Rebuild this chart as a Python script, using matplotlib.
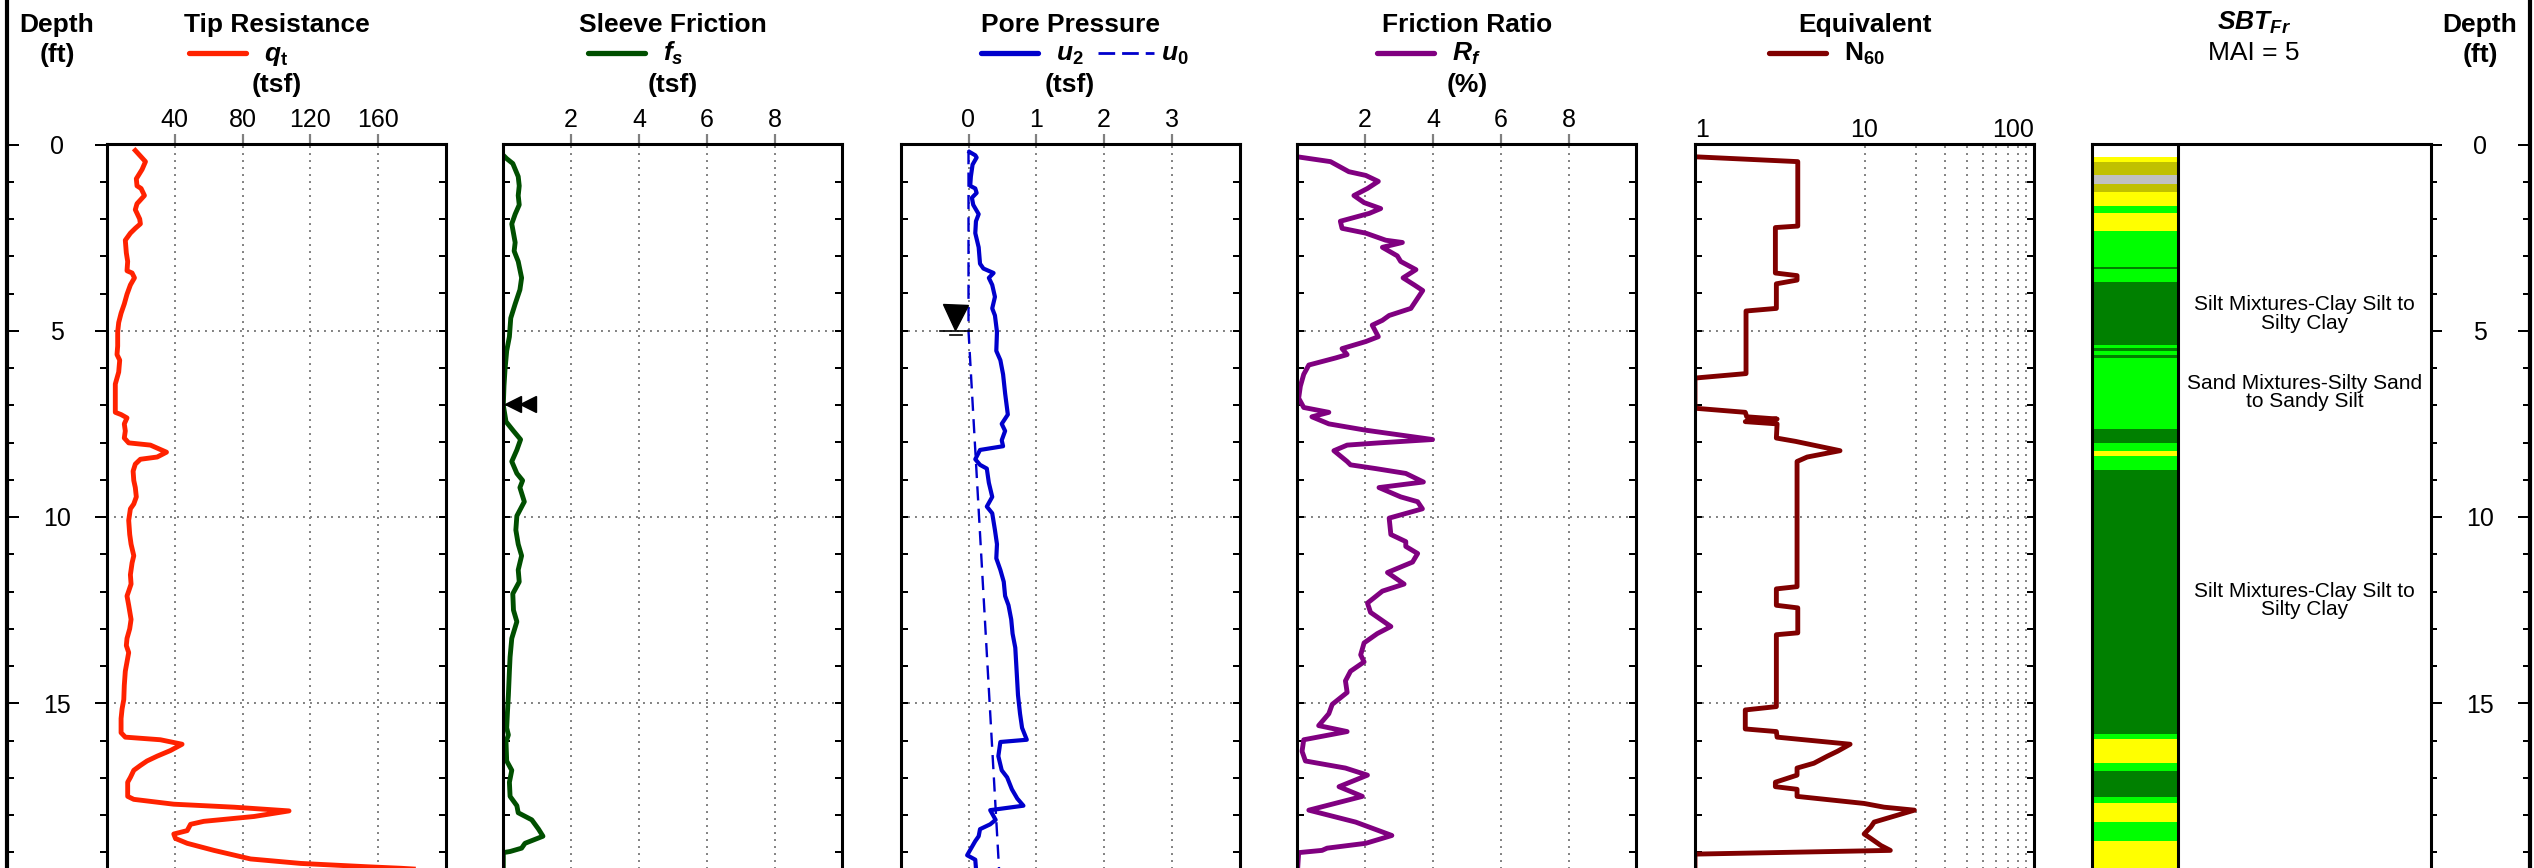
import matplotlib
matplotlib.use('Agg')
import matplotlib.pyplot as plt
from matplotlib.lines import Line2D
from matplotlib.ticker import FixedLocator, MultipleLocator, NullFormatter

plt.rcParams['font.family'] = ['Liberation Sans', 'DejaVu Sans']
plt.rcParams['mathtext.fontset'] = 'custom'
plt.rcParams['mathtext.rm'] = 'Liberation Sans:bold'
plt.rcParams['mathtext.it'] = 'Liberation Sans:bold:italic'
plt.rcParams['mathtext.bf'] = 'Liberation Sans:bold'

# ---- CPT sounding data (depth ft, value) ----
qt_pts = [(0.16, 16.7), (0.46, 22.7), (0.67, 20.7), (0.92, 17.3), (1.11, 17.7), (1.18, 20.1),
          (1.37, 22.1), (1.59, 17.7), (1.75, 16.7), (2.0, 19.3), (2.13, 19.7), (2.25, 16.7),
          (2.38, 13.8), (2.57, 10.8), (2.91, 11.4), (3.14, 12.2), (3.39, 11.8), (3.45, 14.8),
          (3.58, 16.2), (3.77, 13.8), (4.02, 11.8), (4.28, 10.2), (4.53, 8.3), (4.78, 6.9),
          (5.03, 6.3), (5.41, 6.3), (5.64, 5.9), (5.79, 7.5), (6.11, 6.9), (6.43, 4.9),
          (7.19, 4.9), (7.25, 8.3), (7.34, 11.8), (7.5, 10.2), (7.69, 10.8), (7.88, 10.2),
          (8.01, 12.8), (8.07, 25.6), (8.26, 35.1), (8.39, 29.6), (8.45, 19.7), (8.58, 16.7),
          (8.77, 15.4), (9.02, 15.8), (9.21, 16.7), (9.46, 17.3), (9.65, 15.8), (9.78, 13.8),
          (10.09, 12.8), (10.47, 13.4), (10.73, 14.2), (11.04, 15.8), (11.23, 14.8), (11.55, 13.8),
          (11.8, 14.2), (11.99, 12.8), (12.12, 11.8), (12.37, 12.8), (12.75, 14.2), (13.0, 13.4),
          (13.26, 11.8), (13.45, 11.4), (13.64, 12.8), (13.89, 11.8), (14.14, 10.8), (14.52, 10.2),
          (14.9, 9.9), (15.15, 8.9), (15.41, 8.3), (15.79, 8.3), (15.91, 10.8), (15.98, 31.5),
          (16.1, 44.3), (16.27, 37.4), (16.42, 29.6), (16.55, 23.6), (16.67, 19.7), (16.8, 15.8),
          (16.99, 13.8), (17.12, 12.2), (17.5, 12.2), (17.58, 15.8), (17.71, 39.4), (17.79, 74.9),
          (17.89, 107.4), (18.04, 86.7), (18.17, 57.1), (18.25, 49.3), (18.42, 47.3), (18.51, 39.4),
          (18.63, 40.4), (18.76, 47.3), (18.95, 63.1), (19.18, 84.7), (19.3, 114.3), (19.39, 153.7),
          (19.43, 173.4), (19.48, 192.0)]

fs_pts = [(0.29, 0.0), (0.38, 0.1), (0.51, 0.28), (0.86, 0.44), (1.11, 0.47), (1.37, 0.44),
          (1.62, 0.47), (1.87, 0.35), (2.13, 0.25), (2.38, 0.3), (2.63, 0.35), (2.86, 0.32),
          (3.14, 0.44), (3.58, 0.54), (3.9, 0.49), (4.28, 0.35), (4.66, 0.22), (5.16, 0.18),
          (5.54, 0.1), (6.05, 0.05), (6.49, 0.02), (7.0, 0.0), (7.44, 0.08), (7.69, 0.3),
          (7.92, 0.51), (8.2, 0.4), (8.51, 0.25), (8.83, 0.4), (9.02, 0.57), (9.21, 0.49),
          (9.59, 0.62), (9.97, 0.4), (10.35, 0.37), (10.73, 0.44), (11.04, 0.54), (11.42, 0.44),
          (11.74, 0.47), (12.06, 0.28), (12.5, 0.3), (12.81, 0.4), (13.26, 0.25), (13.76, 0.2),
          (14.14, 0.18), (14.78, 0.15), (15.28, 0.12), (15.66, 0.1), (15.85, 0.15), (16.04, 0.08),
          (16.55, 0.1), (16.8, 0.25), (17.12, 0.18), (17.5, 0.2), (17.75, 0.4), (17.94, 0.44),
          (18.13, 0.84), (18.38, 1.04), (18.57, 1.17), (18.76, 0.64), (18.89, 0.54), (18.98, 0.2),
          (19.01, 0.0), (19.6, 0.0)]
fs_flag_depth = 6.97
fs_flag_x = [0.29, 0.74]

u2_pts = [(0.2, 0.015), (0.29, 0.1), (0.35, 0.12), (0.54, 0.06), (0.86, 0.035), (1.11, 0.025),
          (1.18, 0.1), (1.3, 0.12), (1.43, 0.05), (1.62, 0.07), (1.87, 0.15), (2.06, 0.11),
          (2.38, 0.1), (2.76, 0.15), (3.2, 0.17), (3.33, 0.22), (3.45, 0.37), (3.58, 0.3),
          (3.77, 0.35), (4.09, 0.39), (4.4, 0.35), (4.59, 0.39), (5.03, 0.42), (5.54, 0.41),
          (5.79, 0.47), (6.17, 0.51), (6.68, 0.54), (7.25, 0.58), (7.5, 0.49), (7.69, 0.54),
          (7.94, 0.49), (8.1, 0.51), (8.2, 0.17), (8.45, 0.1), (8.6, 0.17), (8.7, 0.27),
          (9.08, 0.3), (9.46, 0.35), (9.72, 0.27), (9.9, 0.35), (10.35, 0.39), (10.73, 0.42),
          (11.11, 0.41), (11.42, 0.47), (11.74, 0.52), (12.12, 0.54), (12.37, 0.59), (12.75, 0.63),
          (13.13, 0.65), (13.51, 0.69), (14.14, 0.71), (14.78, 0.73), (15.28, 0.76), (15.66, 0.79),
          (15.98, 0.86), (16.04, 0.47), (16.42, 0.44), (16.8, 0.49), (16.99, 0.57), (17.31, 0.64),
          (17.56, 0.72), (17.75, 0.81), (17.87, 0.32), (18.13, 0.4), (18.25, 0.32), (18.38, 0.17),
          (18.57, 0.15), (18.7, 0.1), (19.08, -0.02), (19.2, 0.1), (19.43, 0.11)]
u0_pts = [(0.15, 0.0), (5.0, 0.0), (19.43, 0.45)]
wt_depth = 5.0

rf_pts = [(0.33, 0.0), (0.46, 0.98), (0.73, 1.52), (0.83, 2.02), (0.99, 2.39), (1.18, 2.07),
          (1.37, 1.67), (1.56, 1.97), (1.72, 2.46), (1.85, 2.12), (2.06, 1.27), (2.25, 1.32),
          (2.38, 2.02), (2.57, 2.61), (2.63, 3.1), (2.76, 2.51), (2.99, 2.95), (3.14, 3.05),
          (3.36, 3.5), (3.58, 3.12), (3.77, 3.45), (3.92, 3.7), (4.4, 3.35), (4.59, 2.71),
          (4.72, 2.51), (4.85, 2.21), (5.16, 2.39), (5.29, 2.02), (5.48, 1.32), (5.64, 1.47),
          (5.73, 1.13), (5.92, 0.34), (6.17, 0.19), (6.49, 0.09), (6.81, 0.04), (7.06, 0.19),
          (7.19, 0.93), (7.31, 0.43), (7.5, 0.93), (7.67, 2.02), (7.82, 3.2), (7.92, 3.99),
          (8.01, 2.41), (8.07, 1.47), (8.22, 1.08), (8.51, 1.47), (8.6, 1.57), (8.7, 2.31),
          (8.83, 3.2), (9.06, 3.72), (9.21, 2.41), (9.46, 3.05), (9.59, 3.55), (9.78, 3.69),
          (10.03, 2.71), (10.47, 2.76), (10.66, 3.2), (10.79, 3.2), (10.98, 3.55), (11.21, 3.4),
          (11.49, 2.66), (11.8, 3.15), (11.99, 2.51), (12.31, 2.07), (12.56, 2.16), (12.94, 2.76),
          (13.13, 2.36), (13.38, 1.97), (13.7, 1.87), (13.89, 1.97), (14.14, 1.57), (14.4, 1.42),
          (14.71, 1.47), (15.03, 1.03), (15.28, 0.93), (15.6, 0.63), (15.76, 1.47), (15.98, 0.19),
          (16.29, 0.14), (16.55, 0.24), (16.74, 1.42), (16.93, 2.07), (17.24, 1.23), (17.5, 1.92),
          (17.87, 0.34), (18.19, 1.72), (18.55, 2.79), (18.76, 2.02), (18.89, 0.88), (18.95, 0.73),
          (19.01, 0.04), (19.6, 0.0)]

n60_pts = [(0.33, 1.0), (0.46, 4.04), (2.19, 4.04), (2.23, 2.98), (3.45, 2.98), (3.52, 4.0),
           (3.64, 4.0), (3.74, 3.02), (4.4, 3.02), (4.47, 2.0), (6.15, 2.0), (6.27, 1.0),
           (7.08, 1.0), (7.19, 1.98), (7.31, 2.02), (7.37, 3.05), (7.44, 1.98), (7.5, 3.05),
           (7.88, 3.02), (7.97, 3.92), (8.22, 7.17), (8.39, 4.59), (8.51, 4.0), (11.87, 4.0),
           (11.93, 3.02), (12.37, 3.02), (12.44, 4.04), (13.11, 4.04), (13.16, 3.02), (15.09, 3.02),
           (15.18, 1.98), (15.69, 1.98), (15.76, 3.02), (15.91, 3.05), (16.1, 8.22), (16.29, 6.92),
           (16.42, 6.04), (16.61, 5.03), (16.74, 4.0), (16.93, 4.0), (17.12, 2.98), (17.24, 2.98),
           (17.31, 4.0), (17.5, 4.0), (17.69, 9.95), (17.79, 13.05), (17.87, 19.7), (18.19, 11.4),
           (18.32, 10.9), (18.51, 9.95), (18.63, 10.9), (18.82, 12.5), (18.95, 14.2), (19.05, 1.0),
           (19.6, 1.0)]

# soil behaviour type column: top of each layer (ft) and zone number
sbt_tops = [0.33, 0.46, 0.83, 1.05, 1.27, 1.64, 1.85, 2.31, 3.29, 3.33, 3.68, 5.39, 5.45, 5.54,
            5.64, 5.72, 7.63, 8.01, 8.22, 8.36, 8.73, 15.83, 15.95, 16.61, 16.82, 17.52, 17.69,
            18.19, 18.70]
sbt_zone = [6, 7, 8, 7, 6, 5, 6, 5, 4, 5, 4, 5, 4, 5, 4, 5, 4, 5, 6, 5, 4, 5, 6, 5, 4, 5, 6, 5, 6]
zone_colors = {4: '#008000', 5: '#00FF00', 6: '#FFFF00', 7: '#C0C000', 8: '#C0C0C0'}
sbt_labels = ['Silt Mixtures-Clay Silt to\nSilty Clay',
              'Sand Mixtures-Silty Sand\nto Sandy Silt',
              'Silt Mixtures-Clay Silt to\nSilty Clay']
sbt_label_depth = [4.55, 6.65, 12.24]

titles = ['Tip Resistance', 'Sleeve Friction', 'Pore Pressure', 'Friction Ratio', 'Equivalent']
labels = [r'$q_\mathrm{t}$', r'$f_s$', r'$u_2$', r'$R_f$', r'$\mathrm{N}_{60}$']
units = ['(tsf)', '(tsf)', '(tsf)', '(%)', None]
colors = ['#FF2200', '#004F00', '#0000CC', '#800080', '#800000']

# ---- layout (pixels) ----
W, H, DPI = 2534, 868, 100
PT = 72 / DPI
TOP = 144.5
PX_FT = 37.25
D_MAX = 20.0
BOT = TOP + D_MAX * PX_FT
PANEL_W = 339
lefts = [107, 503.3, 900.7, 1297.3, 1695, 2091.7]
GRID = dict(color='#808080', linestyle=(0, (1, 2.6)), linewidth=1.4)
LW = 3.5


def rect(x0, w, y0=TOP, y1=BOT):
    return [x0 / W, 1 - y1 / H, w / W, (y1 - y0) / H]


fig = plt.figure(figsize=(W / DPI, H / DPI), dpi=DPI)

axes = []
for x0 in lefts:
    ax = fig.add_axes(rect(x0, PANEL_W))
    ax.set_ylim(D_MAX, 0)
    for s in ax.spines.values():
        s.set_linewidth(2.2)
    ax.yaxis.set_major_locator(MultipleLocator(5))
    ax.yaxis.set_minor_locator(MultipleLocator(1))
    ax.tick_params(axis='y', which='both', left=True, right=True, direction='in',
                   length=7 * PT, width=2 * PT, labelleft=False)
    ax.xaxis.set_ticks_position('top')
    ax.tick_params(axis='x', which='major', direction='out', length=10 * PT, width=2.2 * PT,
                   color='#808080', labelsize=18, pad=2 * PT)
    ax.tick_params(axis='x', which='minor', length=0)
    axes.append(ax)

ax1, ax2, ax3, ax4, ax5, ax6 = axes


def depth_series(pts):
    d = [p[0] for p in pts]
    v = [p[1] for p in pts]
    return d, v


# tip resistance
d, v = depth_series(qt_pts)
ax1.plot(v, d, color=colors[0], lw=LW)
ax1.set_xlim(0, 200)
ax1.set_xticks([40, 80, 120, 160])
ax1.tick_params(axis='y', which='both', left=False)

# sleeve friction
d, v = depth_series(fs_pts)
ax2.plot(v, d, color=colors[1], lw=LW)
ax2.plot(fs_flag_x, [fs_flag_depth] * len(fs_flag_x), ls='none', marker='<', ms=12, color='k')
ax2.set_xlim(0, 10)
ax2.set_xticks([2, 4, 6, 8])

# pore pressure
d, v = depth_series(u2_pts)
ax3.plot(v, d, color=colors[2], lw=3.0)
d, v = depth_series(u0_pts)
ax3.plot(v, d, color=colors[2], lw=1.7, dashes=(6, 3.5))
ax3.plot([-0.2], [wt_depth - 0.36], ls='none', marker='v', ms=18, color='k')
ax3.plot([-0.42, 0.05], [wt_depth, wt_depth], color='k', lw=1.2)
ax3.plot([-0.27, -0.1], [wt_depth + 0.12, wt_depth + 0.12], color='k', lw=1.2)
ax3.set_xlim(-1, 4)
ax3.set_xticks([0, 1, 2, 3])

# friction ratio
d, v = depth_series(rf_pts)
ax4.plot(v, d, color=colors[3], lw=LW)
ax4.set_xlim(0, 10)
ax4.set_xticks([2, 4, 6, 8])

# equivalent N60
d, v = depth_series(n60_pts)
ax5.plot(v, d, color=colors[4], lw=LW)
ax5.set_xscale('log')
ax5.set_xlim(1, 100)
ax5.set_xticks([1, 10, 100], labels=['1', '10', '100'])
ax5.xaxis.set_minor_locator(FixedLocator([20, 30, 40, 50, 60, 70, 80, 90]))
ax5.xaxis.set_minor_formatter(NullFormatter())
ax5.tick_params(axis='x', which='both', length=0)
n60_ticklabels = ax5.get_xticklabels()
n60_ticklabels[0].set_horizontalalignment('left')
n60_ticklabels[-1].set_horizontalalignment('right')

for ax in (ax1, ax2, ax3, ax4, ax5):
    ax.grid(True, which='major', **GRID)
ax5.grid(True, which='minor', axis='x', **GRID)

# SBT column
COL_W = 0.256
ax6.set_xlim(0, 1)
ax6.tick_params(axis='both', which='both', left=False, right=False, top=False, bottom=False,
                labelleft=False, labeltop=False, labelbottom=False)
sbt_base = sbt_tops[1:] + [D_MAX]
heights = [b - t for t, b in zip(sbt_tops, sbt_base)]
ax6.barh(sbt_tops, COL_W, height=heights, left=0, align='edge',
         color=[zone_colors[z] for z in sbt_zone], linewidth=0)
ax6.axvline(COL_W, color='k', lw=2.2)
for txt, dep in zip(sbt_labels, sbt_label_depth):
    ax6.text((COL_W + 1) / 2, dep, txt, ha='center', va='center', fontsize=15, linespacing=0.95)

# outer depth scales
minor_depths = [k for k in range(1, 20) if k % 5]
depth_ticks = [0, 5, 10, 15]
for x0, x1, side in [(6.5, 107, 'left'), (2430, 2529.5, 'right')]:
    ax = fig.add_axes(rect(x0, x1 - x0, y0=0, y1=BOT))
    ax.set_ylim(D_MAX, -TOP / PX_FT)
    ax.set_xticks([])
    for name, s in ax.spines.items():
        s.set_visible(name == side)
        s.set_linewidth(3)
    ax.yaxis.set_minor_locator(FixedLocator(minor_depths))
    ax.set_yticks(depth_ticks, labels=[str(t) for t in depth_ticks])
    pad = -(57 - x0) if side == 'left' else -(x1 - 2480)
    ax.tick_params(axis='y', which='major', left=True, right=True, direction='in',
                   length=12 * PT, width=2 * PT, labelsize=18, pad=pad * PT,
                   labelleft=(side == 'left'), labelright=(side == 'right'))
    ax.tick_params(axis='y', which='minor', left=True, right=True, direction='in',
                   length=7 * PT, width=2 * PT)
    for lbl in ax.get_yticklabels():
        lbl.set_horizontalalignment('center')
    ax.patch.set_alpha(0)


def fx(px):
    return px / W


def fy(py):
    return 1 - py / H


# headers
for xd in (57, 2480):
    fig.text(fx(xd), fy(32), 'Depth', ha='center', va='baseline', fontsize=19, fontweight='bold')
    fig.text(fx(xd), fy(62), '(ft)', ha='center', va='baseline', fontsize=19, fontweight='bold')

label_txt = []
for x0, title, lab, unit in zip(lefts, titles, labels, units):
    cx = x0 + PANEL_W / 2
    fig.text(fx(cx), fy(32), title, ha='center', va='baseline', fontsize=19, fontweight='bold')
    label_txt.append(fig.text(fx(cx), fy(61), lab, ha='center', va='baseline', fontsize=19))
    if unit:
        fig.text(fx(cx), fy(92), unit, ha='center', va='baseline', fontsize=19, fontweight='bold')

fig.text(fx(2254), fy(30), r'$SBT_{Fr}$', ha='center', va='baseline', fontsize=19)
fig.text(fx(2254), fy(60), 'MAI = 5', ha='center', va='baseline', fontsize=19)

# legend handles placed next to the measured labels
fig.canvas.draw()
LEG_Y = fy(52.5)
for txt, c in zip(label_txt, colors):
    bb = txt.get_window_extent()
    x_end = bb.x0 - 18
    fig.add_artist(Line2D([fx(x_end - 57), fx(x_end)], [LEG_Y, LEG_Y], transform=fig.transFigure,
                          color=c, lw=3.8, solid_capstyle='round'))
bb = label_txt[2].get_window_extent()
fig.add_artist(Line2D([fx(bb.x1 + 14), fx(bb.x1 + 70)], [LEG_Y, LEG_Y], transform=fig.transFigure,
                      color=colors[2], lw=2.0, dashes=(6, 2.5)))
fig.text(fx(bb.x1 + 77), fy(61), r'$u_0$', ha='left', va='baseline', fontsize=19)

fig.savefig('out.png', dpi=DPI)
